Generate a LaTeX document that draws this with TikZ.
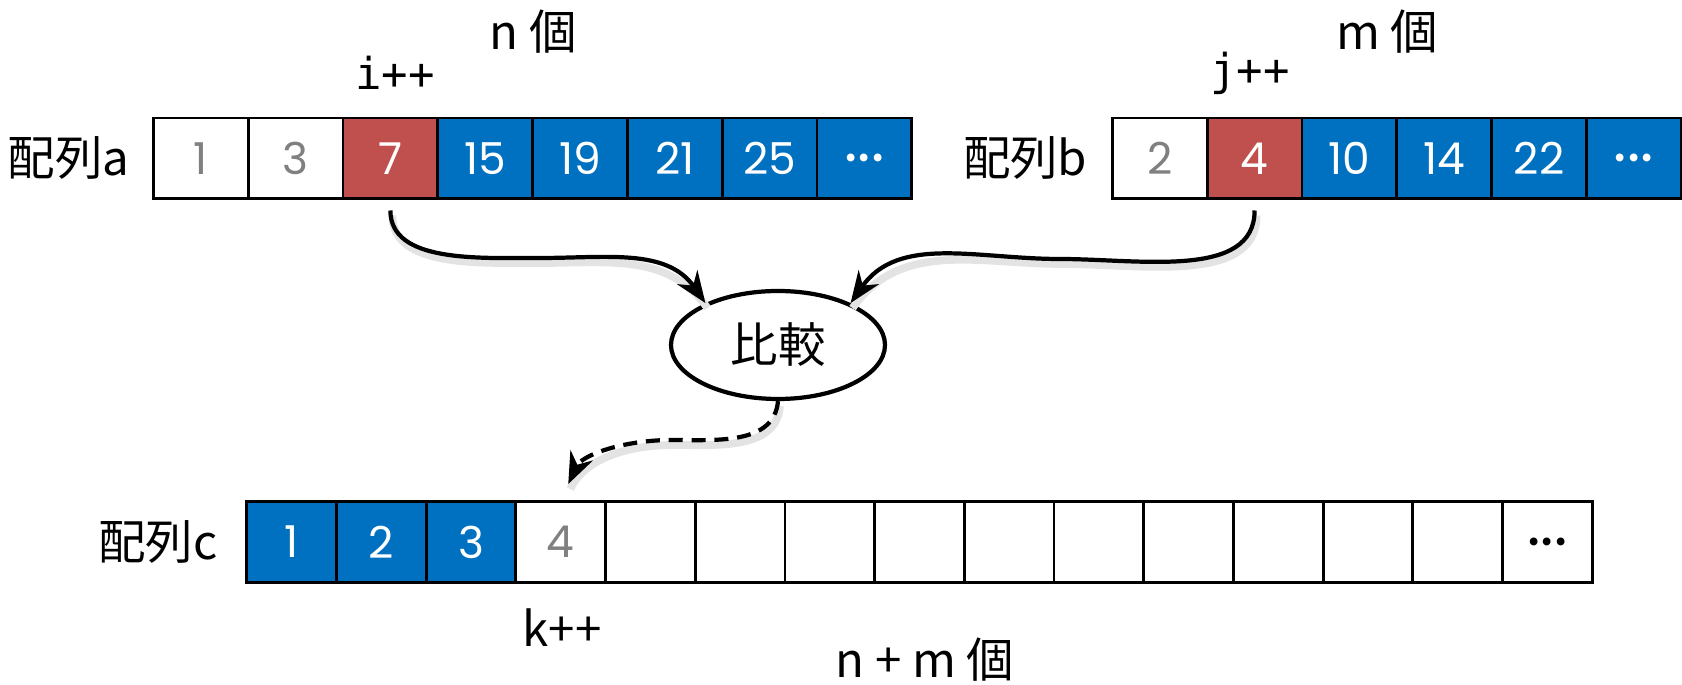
\documentclass[tikz,border=0pt]{standalone}
\usepackage{fontspec}
\setmainfont{Poppins}
\newfontfamily\jpfont{Noto Sans CJK JP}
\newfontfamily\codefont{DejaVu Sans Mono}
\usetikzlibrary{shapes.geometric,arrows.meta,positioning}
\definecolor{cellblue}{HTML}{0070C0}
\definecolor{cellred}{HTML}{C0504D}
\definecolor{cellgray}{HTML}{808080}
\newcommand{\moredots}{{\fontsize{18}{18}\selectfont ...}}

\begin{document}
\begin{tikzpicture}[
    cell/.style={draw,line width=0.8pt,minimum width=0.948cm,minimum height=0.805cm,
        inner sep=0pt,font=\fontsize{12.5}{15}\selectfont},
    ccell/.style={cell,minimum width=0.897cm},
    wcell/.style={fill=white,text=cellgray},
    rcell/.style={fill=cellred,text=white},
    bcell/.style={fill=cellblue,text=white},
    ecell/.style={fill=white,text=black},
    jp/.style={inner sep=0pt,font=\jpfont\fontsize{13.5}{16}\selectfont},
    code/.style={inner sep=0pt,font=\codefont\fontsize{12.5}{15}\selectfont},
    flow/.style={-{Stealth[length=9pt,width=7pt]},line width=1.2pt,
        preaction={draw=black!11,line width=2.2pt,-,
            transform canvas={shift={(0.02cm,-0.05cm)}}}},
]
\useasboundingbox (0,0) rectangle (16.82,-6.85);

% array a
\foreach \v/\s [count=\i] in {1/wcell,3/wcell,7/rcell,15/bcell,19/bcell,21/bcell,25/bcell,\moredots/bcell}
    \node[cell,\s] (a\i) at ({2.008+(\i-1)*0.948},-1.583) {\v};
\node[jp,left=0.22cm of a1] (la) {配列a};
\node[code] (ia) at (3.95,-0.73) {i++};
\node[jp] (nlbl) at (5.33,-0.32) {n 個};

% array b
\foreach \v/\s [count=\i] in {2/wcell,4/rcell,10/bcell,14/bcell,22/bcell,\moredots/bcell}
    \node[cell,\s] (b\i) at ({11.598+(\i-1)*0.948},-1.583) {\v};
\node[jp,left=0.23cm of b1] (lb) {配列b};
\node[code] (jb) at (12.50,-0.73) {j++};
\node[jp] (mlbl) at (13.87,-0.32) {m 個};

% array c
\foreach \v/\s [count=\i] in {1/bcell,2/bcell,3/bcell,4/wcell,/ecell,/ecell,/ecell,/ecell,/ecell,/ecell,/ecell,/ecell,/ecell,/ecell,\moredots/ecell}
    \node[ccell,\s] (c\i) at ({2.9155+(\i-1)*0.897},-5.42) {\v};
\node[jp,left=0.27cm of c1] (lc) {配列c};
\node[jp] (kc) at (5.62,-6.28) {k++};
\node[jp] (nmlbl) at (9.25,-6.60) {n + m 個};

% compare
\node[jp,draw,ellipse,line width=1.2pt,minimum width=2.14cm,minimum height=1.08cm] (cmp) at (7.78,-3.45) {比較};

\coordinate (bendl) at (5.40,-2.58);
\coordinate (bendr) at (10.60,-2.59);
\coordinate (bendc) at (6.72,-4.40);

\draw[flow,shorten <=3pt] (a3.south) to[out=-90,in=180] (bendl) to[out=0,in=125] (cmp.150);
\draw[flow,shorten <=3pt] (b2.south) to[out=-90,in=0] (bendr) to[out=180,in=55] (cmp.30);
\draw[flow,dash pattern=on 4pt off 2.5pt,shorten >=0.18cm] (cmp.south) to[out=-95,in=0] (bendc) to[out=180,in=65] (c4.north);
\end{tikzpicture}
\end{document}
